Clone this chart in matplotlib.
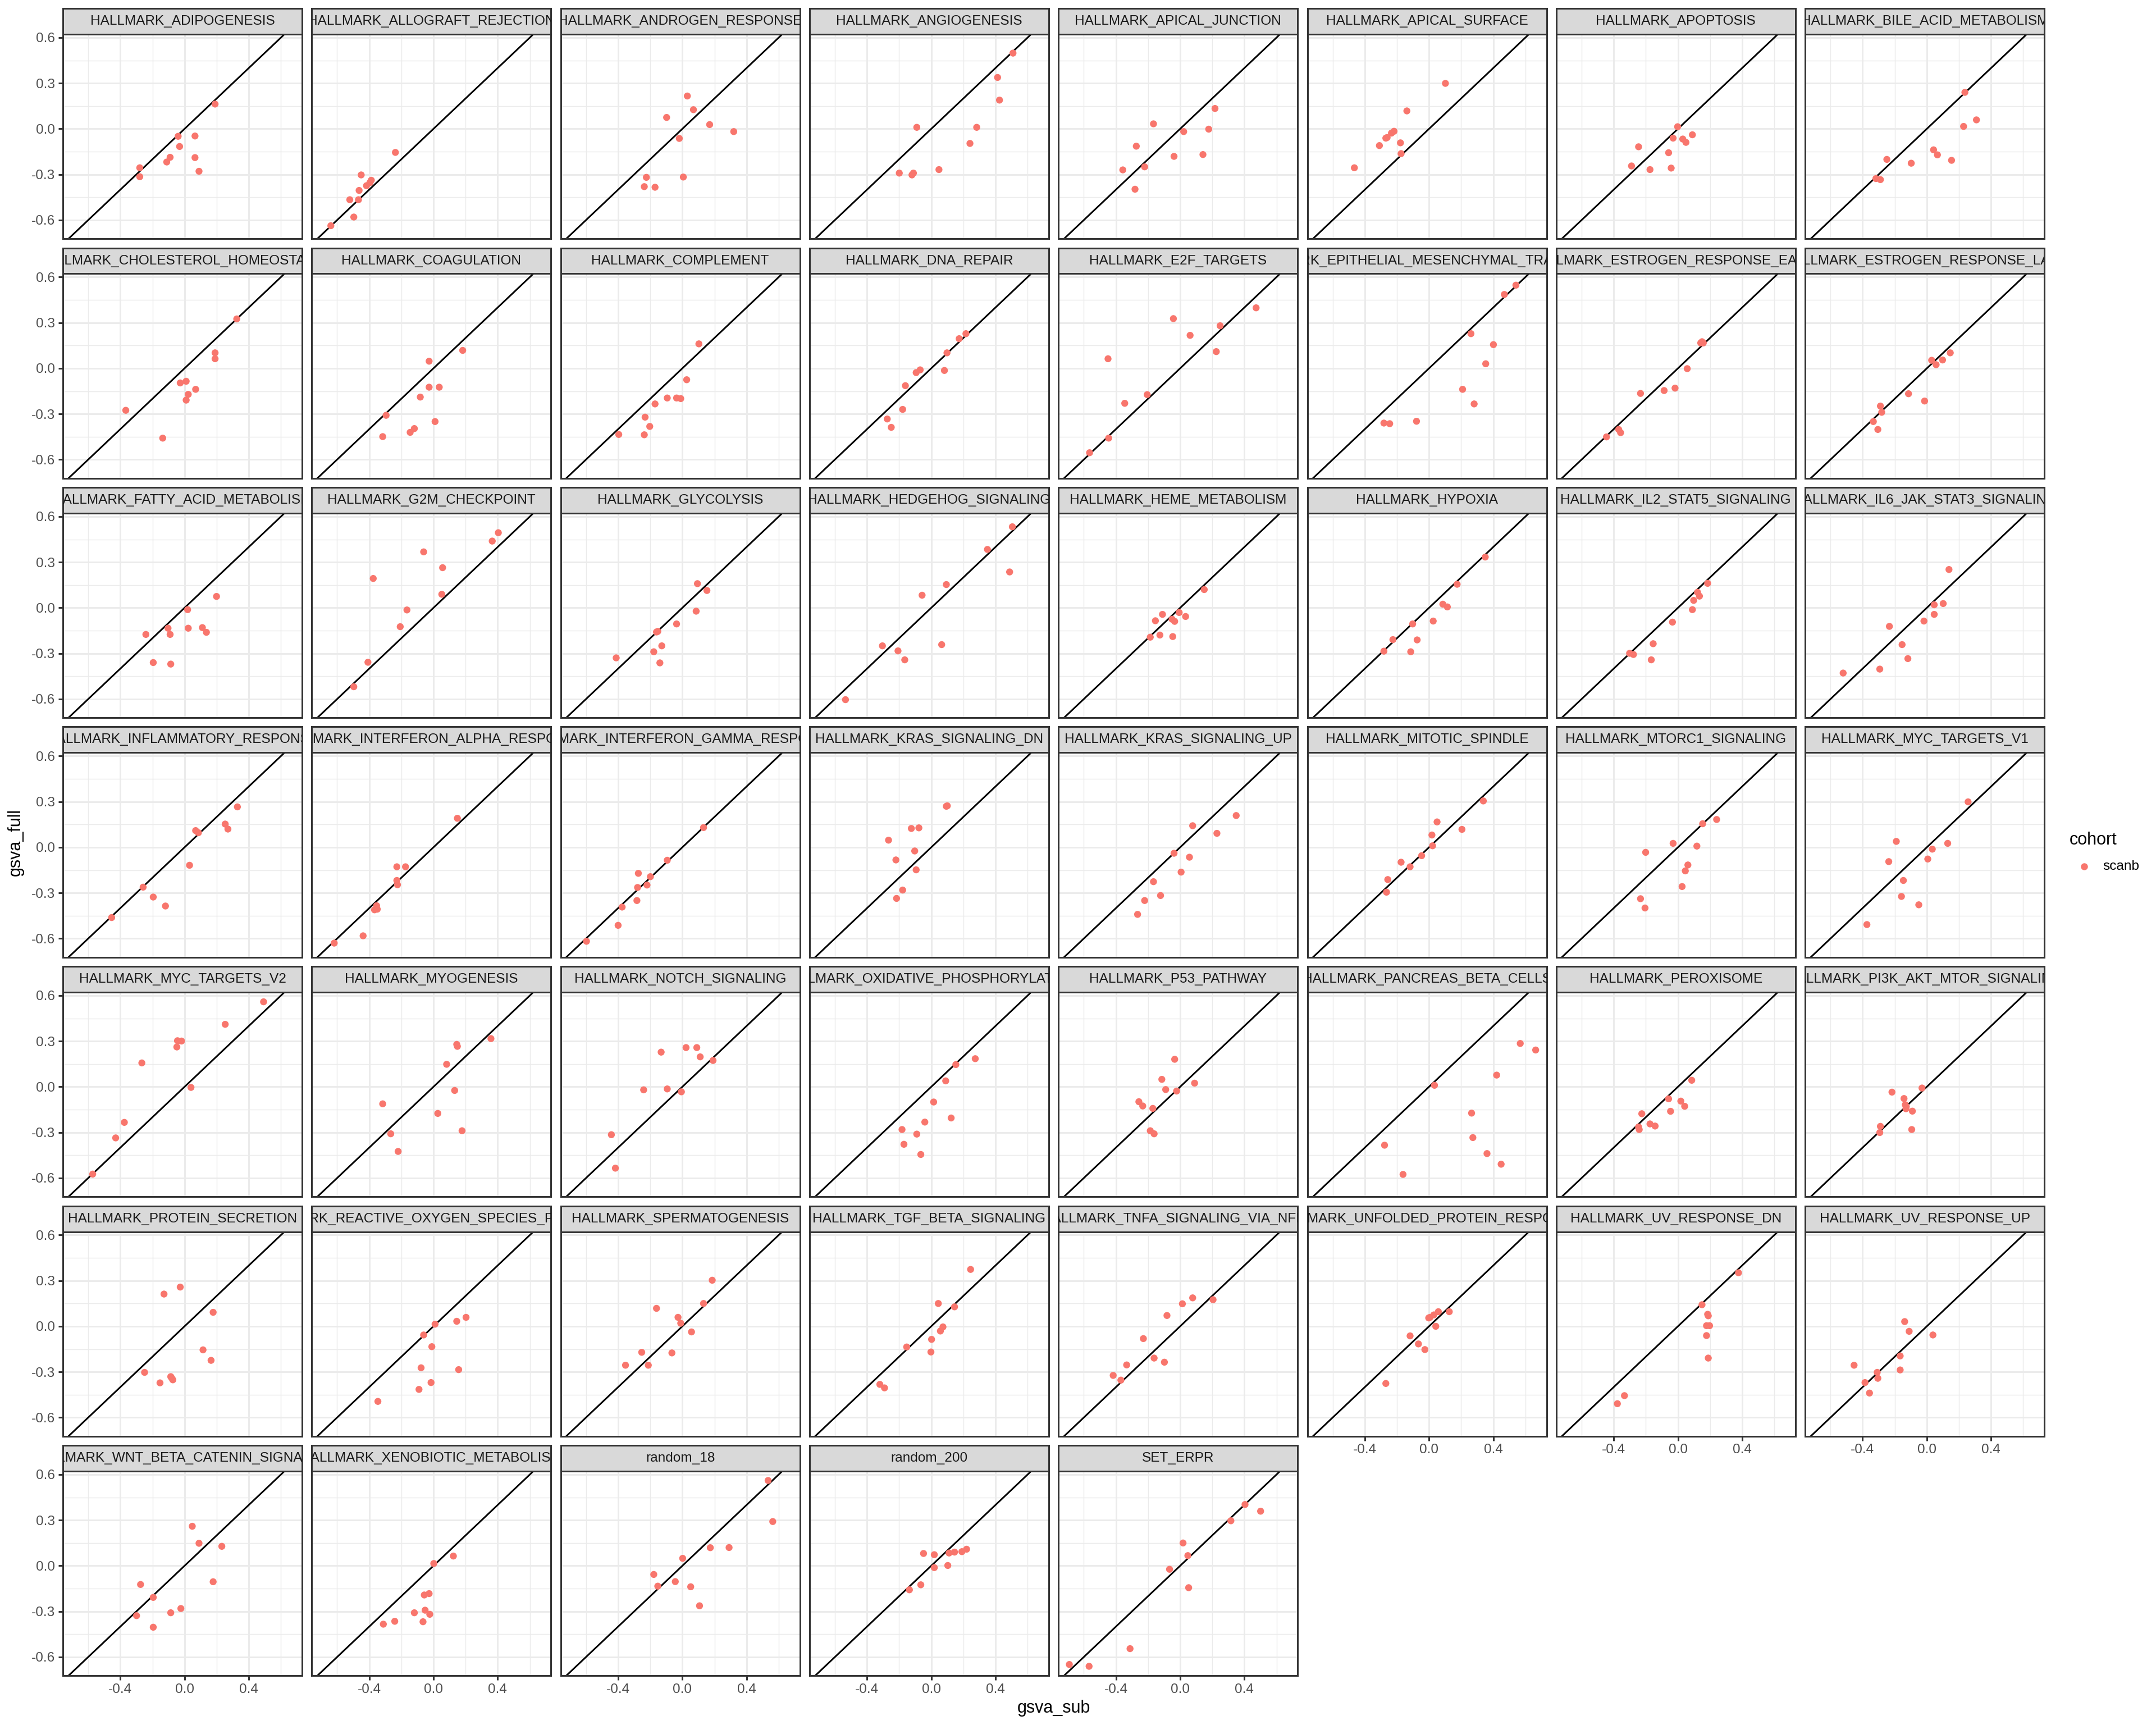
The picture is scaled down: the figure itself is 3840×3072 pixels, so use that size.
"""
GSVA scores: subset vs full cohort, one facet per gene set (ggplot-like facet_wrap)
"""
import numpy as np
import matplotlib
matplotlib.use("agg")  # noqa: E402
import matplotlib.pyplot as plt
from matplotlib.lines import Line2D
from matplotlib.ticker import FormatStrFormatter

plt.rcParams['font.family'] = ['Liberation Sans', 'DejaVu Sans']
plt.rcParams['axes.unicode_minus'] = False

# ---- data: gsva_sub (x) and gsva_full (y) per gene set, cohort scanb ----
ADIPOGENESIS_SUB = [0.19, -0.04, 0.065, -0.031, -0.09, -0.111, 0.065, 0.09, -0.279, -0.279]
ADIPOGENESIS_FULL = [0.163, -0.049, -0.047, -0.116, -0.187, -0.218, -0.189, -0.279, -0.256, -0.315]
ALLOGRAFT_SUB = [-0.237, -0.45, -0.387, -0.396, -0.417, -0.463, -0.521, -0.467, -0.496, -0.639]
ALLOGRAFT_FULL = [-0.155, -0.303, -0.338, -0.354, -0.374, -0.405, -0.466, -0.466, -0.58, -0.637]
ANDROGEN_SUB = [0.031, 0.069, -0.098, 0.17, 0.32, -0.019, -0.224, 0.006, -0.237, -0.17]
ANDROGEN_FULL = [0.216, 0.126, 0.075, 0.028, -0.018, -0.063, -0.319, -0.317, -0.38, -0.384]
ANGIOGENESIS_SUB = [0.509, 0.413, 0.425, -0.09, 0.283, 0.241, 0.048, -0.199, -0.12, -0.111]
ANGIOGENESIS_FULL = [0.498, 0.338, 0.189, 0.01, 0.01, -0.096, -0.268, -0.291, -0.303, -0.291]
APICAL_JUNCTION_SUB = [0.217, -0.166, 0.022, 0.178, -0.273, -0.038, 0.142, -0.221, -0.357, -0.281]
APICAL_JUNCTION_FULL = [0.134, 0.033, -0.018, -0.002, -0.114, -0.181, -0.169, -0.25, -0.27, -0.397]
APICAL_SURFACE_SUB = [0.102, -0.138, -0.218, -0.234, -0.261, -0.269, -0.178, -0.309, -0.174, -0.465]
APICAL_SURFACE_FULL = [0.299, 0.118, -0.016, -0.028, -0.057, -0.061, -0.092, -0.11, -0.163, -0.256]
APOPTOSIS_SUB = [-0.002, 0.09, -0.03, 0.03, 0.05, -0.245, -0.058, -0.289, -0.174, -0.042]
APOPTOSIS_FULL = [0.014, -0.039, -0.061, -0.067, -0.089, -0.118, -0.157, -0.244, -0.268, -0.258]
BILE_ACID_SUB = [0.237, 0.309, 0.229, 0.042, 0.066, 0.154, -0.249, -0.097, -0.317, -0.289]
BILE_ACID_FULL = [0.24, 0.059, 0.016, -0.138, -0.171, -0.207, -0.201, -0.226, -0.327, -0.334]
CHOLESTEROL_SUB = [0.325, 0.19, 0.19, 0.01, -0.027, 0.069, 0.023, 0.01, -0.366, -0.136]
CHOLESTEROL_FULL = [0.325, 0.102, 0.063, -0.085, -0.096, -0.138, -0.171, -0.209, -0.276, -0.459]
COAGULATION_SUB = [0.182, -0.027, -0.027, 0.036, -0.082, -0.295, 0.01, -0.119, -0.145, -0.316]
COAGULATION_FULL = [0.118, 0.047, -0.124, -0.124, -0.189, -0.309, -0.35, -0.396, -0.421, -0.449]
COMPLEMENT_SUB = [0.103, 0.027, -0.094, -0.036, -0.01, -0.17, -0.232, -0.203, -0.396, -0.237]
COMPLEMENT_FULL = [0.161, -0.075, -0.195, -0.195, -0.199, -0.234, -0.321, -0.382, -0.435, -0.437]
DNA_REPAIR_SUB = [0.216, 0.174, 0.098, -0.069, -0.094, 0.082, -0.161, -0.178, -0.274, -0.249]
DNA_REPAIR_FULL = [0.228, 0.195, 0.102, -0.01, -0.028, -0.014, -0.114, -0.27, -0.333, -0.388]
E2F_SUB = [0.473, -0.042, 0.249, 0.062, 0.225, -0.449, -0.205, -0.345, -0.445, -0.564]
E2F_FULL = [0.398, 0.327, 0.28, 0.217, 0.11, 0.063, -0.173, -0.23, -0.459, -0.555]
EMT_SUB = [0.541, 0.469, 0.261, 0.401, 0.353, 0.209, 0.281, -0.281, -0.245, -0.078]
EMT_FULL = [0.547, 0.486, 0.228, 0.156, 0.03, -0.138, -0.234, -0.36, -0.364, -0.348]
ESTROGEN_EARLY_SUB = [0.142, 0.158, 0.15, 0.058, -0.018, -0.086, -0.233, -0.369, -0.357, -0.445]
ESTROGEN_EARLY_FULL = [0.167, 0.167, 0.175, -0.002, -0.13, -0.146, -0.165, -0.402, -0.423, -0.451]
ESTROGEN_LATE_SUB = [0.146, 0.098, 0.03, 0.058, -0.114, -0.014, -0.289, -0.281, -0.333, -0.305]
ESTROGEN_LATE_FULL = [0.102, 0.055, 0.053, 0.024, -0.167, -0.215, -0.248, -0.289, -0.35, -0.402]
FATTY_ACID_SUB = [0.199, 0.019, -0.103, 0.023, 0.111, 0.136, -0.09, -0.241, -0.195, -0.086]
FATTY_ACID_FULL = [0.075, -0.012, -0.134, -0.134, -0.13, -0.161, -0.175, -0.175, -0.36, -0.37]
G2M_SUB = [0.404, 0.366, -0.061, 0.057, -0.375, 0.052, -0.165, -0.207, -0.408, -0.496]
G2M_FULL = [0.494, 0.439, 0.368, 0.264, 0.193, 0.089, -0.014, -0.124, -0.358, -0.519]
GLYCOLYSIS_SUB = [0.094, 0.153, 0.086, -0.036, -0.153, -0.161, -0.128, -0.178, -0.14, -0.412]
GLYCOLYSIS_FULL = [0.159, 0.114, -0.022, -0.106, -0.155, -0.159, -0.25, -0.289, -0.362, -0.329]
HEDGEHOG_SUB = [0.505, 0.35, 0.488, 0.094, -0.057, -0.304, -0.207, 0.065, -0.165, -0.534]
HEDGEHOG_FULL = [0.533, 0.384, 0.236, 0.153, 0.083, -0.25, -0.283, -0.242, -0.342, -0.604]
HEME_SUB = [0.15, -0.006, -0.11, -0.154, -0.05, -0.034, 0.034, -0.126, -0.186, -0.046]
HEME_FULL = [0.12, -0.031, -0.043, -0.085, -0.075, -0.089, -0.057, -0.179, -0.193, -0.189]
HYPOXIA_SUB = [0.35, 0.175, 0.086, 0.114, 0.026, -0.102, -0.225, -0.074, -0.281, -0.114]
HYPOXIA_FULL = [0.334, 0.155, 0.024, 0.006, -0.087, -0.106, -0.209, -0.211, -0.285, -0.289]
IL2_SUB = [0.185, 0.122, 0.134, 0.098, 0.09, -0.034, -0.154, -0.301, -0.277, -0.166]
IL2_FULL = [0.161, 0.102, 0.077, 0.049, -0.012, -0.094, -0.236, -0.299, -0.307, -0.342]
IL6_SUB = [0.138, 0.102, 0.046, 0.046, -0.018, -0.233, -0.154, -0.118, -0.293, -0.521]
IL6_FULL = [0.252, 0.028, 0.02, -0.043, -0.087, -0.122, -0.242, -0.334, -0.403, -0.429]
INFLAMMATORY_SUB = [0.329, 0.253, 0.27, 0.069, 0.086, 0.031, -0.258, -0.195, -0.119, -0.454]
INFLAMMATORY_FULL = [0.266, 0.153, 0.12, 0.11, 0.096, -0.118, -0.262, -0.327, -0.386, -0.462]
IFN_ALPHA_SUB = [0.149, -0.228, -0.174, -0.228, -0.224, -0.354, -0.35, -0.367, -0.438, -0.618]
IFN_ALPHA_FULL = [0.191, -0.128, -0.128, -0.218, -0.246, -0.384, -0.407, -0.411, -0.582, -0.63]
IFN_GAMMA_SUB = [0.132, -0.094, -0.199, -0.274, -0.22, -0.279, -0.283, -0.375, -0.4, -0.597]
IFN_GAMMA_FULL = [0.13, -0.085, -0.193, -0.171, -0.248, -0.264, -0.35, -0.393, -0.513, -0.618]
KRAS_DN_SUB = [0.094, 0.1, -0.124, -0.077, -0.266, -0.103, -0.22, -0.094, -0.178, -0.216]
KRAS_DN_FULL = [0.27, 0.273, 0.124, 0.128, 0.047, -0.024, -0.083, -0.148, -0.281, -0.336]
KRAS_UP_SUB = [0.349, 0.078, 0.229, -0.038, 0.058, 0.006, -0.166, -0.122, -0.221, -0.265]
KRAS_UP_FULL = [0.209, 0.142, 0.092, -0.039, -0.065, -0.163, -0.226, -0.317, -0.35, -0.441]
MITOTIC_SUB = [0.338, 0.05, 0.205, 0.018, 0.022, -0.046, -0.174, -0.118, -0.257, -0.265]
MITOTIC_FULL = [0.305, 0.167, 0.118, 0.081, 0.01, -0.055, -0.098, -0.128, -0.212, -0.295]
MTORC1_SUB = [0.241, 0.154, -0.03, 0.118, -0.201, 0.062, 0.046, 0.026, -0.233, -0.205]
MTORC1_FULL = [0.183, 0.155, 0.026, 0.008, -0.033, -0.116, -0.155, -0.258, -0.338, -0.399]
MYC_V1_SUB = [0.257, -0.19, 0.13, 0.034, 0.006, -0.237, -0.146, -0.158, -0.05, -0.373]
MYC_V1_FULL = [0.299, 0.039, 0.026, -0.012, -0.077, -0.094, -0.218, -0.323, -0.378, -0.508]
MYC_V2_SUB = [0.492, 0.253, -0.044, -0.019, -0.048, -0.266, 0.04, -0.375, -0.429, -0.572]
MYC_V2_FULL = [0.559, 0.411, 0.303, 0.301, 0.262, 0.157, -0.004, -0.234, -0.336, -0.574]
MYOGENESIS_SUB = [0.358, 0.145, 0.149, 0.082, -0.316, 0.132, 0.027, 0.178, -0.266, -0.22]
MYOGENESIS_FULL = [0.317, 0.279, 0.266, 0.148, -0.112, -0.024, -0.175, -0.289, -0.309, -0.425]
NOTCH_SUB = [-0.132, 0.023, 0.09, 0.111, 0.191, -0.241, -0.094, -0.006, -0.442, -0.417]
NOTCH_FULL = [0.228, 0.258, 0.258, 0.197, 0.173, -0.02, -0.014, -0.033, -0.315, -0.535]
OXPHOS_SUB = [0.274, 0.153, 0.09, 0.015, 0.124, -0.04, -0.182, -0.09, -0.17, -0.065]
OXPHOS_FULL = [0.185, 0.146, 0.039, -0.1, -0.205, -0.232, -0.281, -0.311, -0.378, -0.445]
P53_SUB = [-0.034, -0.114, 0.09, -0.09, -0.022, -0.257, -0.233, -0.17, -0.186, -0.162]
P53_FULL = [0.181, 0.049, 0.024, -0.018, -0.028, -0.098, -0.126, -0.142, -0.289, -0.309]
PANCREAS_SUB = [0.568, 0.664, 0.421, 0.034, 0.265, 0.273, -0.277, 0.361, 0.449, -0.162]
PANCREAS_FULL = [0.285, 0.242, 0.077, 0.01, -0.173, -0.334, -0.384, -0.439, -0.509, -0.576]
PEROXISOME_SUB = [0.086, -0.058, 0.018, 0.042, -0.046, -0.225, -0.174, -0.142, -0.245, -0.241]
PEROXISOME_FULL = [0.043, -0.079, -0.094, -0.128, -0.161, -0.177, -0.244, -0.258, -0.264, -0.281]
PI3K_SUB = [-0.03, -0.217, -0.142, -0.134, -0.13, -0.09, -0.094, -0.289, -0.293, -0.128]
PI3K_FULL = [-0.008, -0.035, -0.077, -0.118, -0.144, -0.16, -0.281, -0.26, -0.301, -0.13]
PROTEIN_SECRETION_SUB = [-0.027, -0.128, 0.178, 0.115, 0.165, -0.249, -0.086, -0.073, -0.153, -0.08]
PROTEIN_SECRETION_FULL = [0.258, 0.212, 0.092, -0.155, -0.224, -0.303, -0.331, -0.352, -0.372, -0.34]
ROS_SUB = [0.203, 0.145, 0.01, -0.061, -0.01, -0.077, 0.157, -0.015, -0.09, -0.346]
ROS_FULL = [0.059, 0.033, 0.014, -0.057, -0.134, -0.273, -0.285, -0.37, -0.415, -0.494]
SPERMATOGENESIS_SUB = [0.186, 0.132, -0.161, -0.027, -0.01, 0.057, -0.253, -0.065, -0.354, -0.212]
SPERMATOGENESIS_FULL = [0.303, 0.15, 0.118, 0.059, 0.02, -0.037, -0.171, -0.175, -0.256, -0.256]
TGF_BETA_SUB = [0.245, 0.044, 0.145, 0.073, 0.057, 0.002, -0.153, -0.002, -0.32, -0.291]
TGF_BETA_FULL = [0.374, 0.15, 0.128, -0.004, -0.031, -0.086, -0.136, -0.169, -0.382, -0.405]
TNFA_SUB = [0.205, 0.078, 0.014, -0.082, -0.229, -0.162, -0.098, -0.333, -0.417, -0.369]
TNFA_FULL = [0.175, 0.187, 0.148, 0.071, -0.081, -0.209, -0.236, -0.254, -0.323, -0.354]
UNFOLDED_SUB = [0.126, 0.058, 0.03, 0.006, -0.002, 0.042, -0.118, -0.066, -0.026, -0.269]
UNFOLDED_FULL = [0.096, 0.096, 0.075, 0.059, 0.055, 0.0, -0.063, -0.116, -0.153, -0.376]
UV_DN_SUB = [0.377, 0.15, 0.185, 0.189, 0.178, 0.197, 0.178, 0.189, -0.333, -0.377]
UV_DN_FULL = [0.352, 0.142, 0.079, 0.069, 0.004, 0.004, -0.061, -0.209, -0.456, -0.509]
UV_UP_SUB = [-0.138, -0.11, 0.038, -0.166, -0.453, -0.166, -0.309, -0.305, -0.385, -0.357]
UV_UP_FULL = [0.031, -0.033, -0.057, -0.195, -0.256, -0.287, -0.303, -0.342, -0.37, -0.439]
WNT_SUB = [0.048, 0.09, 0.232, 0.178, -0.274, -0.195, -0.023, -0.086, -0.299, -0.195]
WNT_FULL = [0.26, 0.148, 0.128, -0.105, -0.123, -0.208, -0.281, -0.309, -0.328, -0.404]
XENOBIOTIC_SUB = [0.124, 0.002, -0.027, -0.057, -0.052, -0.023, -0.119, -0.065, -0.241, -0.312]
XENOBIOTIC_FULL = [0.064, 0.015, -0.183, -0.192, -0.292, -0.319, -0.309, -0.368, -0.365, -0.384]
RANDOM_18_SUB = [0.534, 0.563, 0.174, 0.291, 0.002, -0.178, -0.044, -0.153, 0.052, 0.107]
RANDOM_18_FULL = [0.561, 0.291, 0.119, 0.12, 0.049, -0.057, -0.104, -0.134, -0.138, -0.263]
RANDOM_200_SUB = [0.22, 0.191, 0.145, 0.111, -0.048, 0.019, 0.103, 0.019, -0.065, -0.136]
RANDOM_200_FULL = [0.109, 0.093, 0.09, 0.084, 0.081, 0.073, 0.002, -0.012, -0.125, -0.158]
SET_ERPR_SUB = [0.404, 0.501, 0.316, 0.018, 0.048, -0.066, 0.053, -0.312, -0.69, -0.567]
SET_ERPR_FULL = [0.403, 0.359, 0.296, 0.15, 0.067, -0.023, -0.144, -0.545, -0.649, -0.661]

PANELS = [
    ("HALLMARK_ADIPOGENESIS", ADIPOGENESIS_SUB, ADIPOGENESIS_FULL),
    ("HALLMARK_ALLOGRAFT_REJECTION", ALLOGRAFT_SUB, ALLOGRAFT_FULL),
    ("HALLMARK_ANDROGEN_RESPONSE", ANDROGEN_SUB, ANDROGEN_FULL),
    ("HALLMARK_ANGIOGENESIS", ANGIOGENESIS_SUB, ANGIOGENESIS_FULL),
    ("HALLMARK_APICAL_JUNCTION", APICAL_JUNCTION_SUB, APICAL_JUNCTION_FULL),
    ("HALLMARK_APICAL_SURFACE", APICAL_SURFACE_SUB, APICAL_SURFACE_FULL),
    ("HALLMARK_APOPTOSIS", APOPTOSIS_SUB, APOPTOSIS_FULL),
    ("HALLMARK_BILE_ACID_METABOLISM", BILE_ACID_SUB, BILE_ACID_FULL),
    ("HALLMARK_CHOLESTEROL_HOMEOSTASIS", CHOLESTEROL_SUB, CHOLESTEROL_FULL),
    ("HALLMARK_COAGULATION", COAGULATION_SUB, COAGULATION_FULL),
    ("HALLMARK_COMPLEMENT", COMPLEMENT_SUB, COMPLEMENT_FULL),
    ("HALLMARK_DNA_REPAIR", DNA_REPAIR_SUB, DNA_REPAIR_FULL),
    ("HALLMARK_E2F_TARGETS", E2F_SUB, E2F_FULL),
    ("HALLMARK_EPITHELIAL_MESENCHYMAL_TRANSITION", EMT_SUB, EMT_FULL),
    ("HALLMARK_ESTROGEN_RESPONSE_EARLY", ESTROGEN_EARLY_SUB, ESTROGEN_EARLY_FULL),
    ("HALLMARK_ESTROGEN_RESPONSE_LATE", ESTROGEN_LATE_SUB, ESTROGEN_LATE_FULL),
    ("HALLMARK_FATTY_ACID_METABOLISM", FATTY_ACID_SUB, FATTY_ACID_FULL),
    ("HALLMARK_G2M_CHECKPOINT", G2M_SUB, G2M_FULL),
    ("HALLMARK_GLYCOLYSIS", GLYCOLYSIS_SUB, GLYCOLYSIS_FULL),
    ("HALLMARK_HEDGEHOG_SIGNALING", HEDGEHOG_SUB, HEDGEHOG_FULL),
    ("HALLMARK_HEME_METABOLISM", HEME_SUB, HEME_FULL),
    ("HALLMARK_HYPOXIA", HYPOXIA_SUB, HYPOXIA_FULL),
    ("HALLMARK_IL2_STAT5_SIGNALING", IL2_SUB, IL2_FULL),
    ("HALLMARK_IL6_JAK_STAT3_SIGNALING", IL6_SUB, IL6_FULL),
    ("HALLMARK_INFLAMMATORY_RESPONSE", INFLAMMATORY_SUB, INFLAMMATORY_FULL),
    ("HALLMARK_INTERFERON_ALPHA_RESPONSE", IFN_ALPHA_SUB, IFN_ALPHA_FULL),
    ("HALLMARK_INTERFERON_GAMMA_RESPONSE", IFN_GAMMA_SUB, IFN_GAMMA_FULL),
    ("HALLMARK_KRAS_SIGNALING_DN", KRAS_DN_SUB, KRAS_DN_FULL),
    ("HALLMARK_KRAS_SIGNALING_UP", KRAS_UP_SUB, KRAS_UP_FULL),
    ("HALLMARK_MITOTIC_SPINDLE", MITOTIC_SUB, MITOTIC_FULL),
    ("HALLMARK_MTORC1_SIGNALING", MTORC1_SUB, MTORC1_FULL),
    ("HALLMARK_MYC_TARGETS_V1", MYC_V1_SUB, MYC_V1_FULL),
    ("HALLMARK_MYC_TARGETS_V2", MYC_V2_SUB, MYC_V2_FULL),
    ("HALLMARK_MYOGENESIS", MYOGENESIS_SUB, MYOGENESIS_FULL),
    ("HALLMARK_NOTCH_SIGNALING", NOTCH_SUB, NOTCH_FULL),
    ("HALLMARK_OXIDATIVE_PHOSPHORYLATION", OXPHOS_SUB, OXPHOS_FULL),
    ("HALLMARK_P53_PATHWAY", P53_SUB, P53_FULL),
    ("HALLMARK_PANCREAS_BETA_CELLS", PANCREAS_SUB, PANCREAS_FULL),
    ("HALLMARK_PEROXISOME", PEROXISOME_SUB, PEROXISOME_FULL),
    ("HALLMARK_PI3K_AKT_MTOR_SIGNALING", PI3K_SUB, PI3K_FULL),
    ("HALLMARK_PROTEIN_SECRETION", PROTEIN_SECRETION_SUB, PROTEIN_SECRETION_FULL),
    ("HALLMARK_REACTIVE_OXYGEN_SPECIES_PATHWAY", ROS_SUB, ROS_FULL),
    ("HALLMARK_SPERMATOGENESIS", SPERMATOGENESIS_SUB, SPERMATOGENESIS_FULL),
    ("HALLMARK_TGF_BETA_SIGNALING", TGF_BETA_SUB, TGF_BETA_FULL),
    ("HALLMARK_TNFA_SIGNALING_VIA_NFKB", TNFA_SUB, TNFA_FULL),
    ("HALLMARK_UNFOLDED_PROTEIN_RESPONSE", UNFOLDED_SUB, UNFOLDED_FULL),
    ("HALLMARK_UV_RESPONSE_DN", UV_DN_SUB, UV_DN_FULL),
    ("HALLMARK_UV_RESPONSE_UP", UV_UP_SUB, UV_UP_FULL),
    ("HALLMARK_WNT_BETA_CATENIN_SIGNALING", WNT_SUB, WNT_FULL),
    ("HALLMARK_XENOBIOTIC_METABOLISM", XENOBIOTIC_SUB, XENOBIOTIC_FULL),
    ("random_18", RANDOM_18_SUB, RANDOM_18_FULL),
    ("random_200", RANDOM_200_SUB, RANDOM_200_FULL),
    ("SET_ERPR", SET_ERPR_SUB, SET_ERPR_FULL),
]

X_MAJOR = [-0.4, 0.0, 0.4]
X_MINOR = [-0.6, -0.2, 0.2, 0.6]
Y_MAJOR = [-0.6, -0.3, 0.0, 0.3, 0.6]
Y_MINOR = [-0.45, -0.15, 0.15, 0.45]

POINT_COLOR = '#F8766D'
BORDER = '#333333'
GRID = '#EBEBEB'

# layout, in pixels of the 3840 x 3072 output
W, H, DPI = 3840, 3072, 200
NCOL = 8
PANEL_LEFT, COL_PITCH, PANEL_W = 112, 443.3, 426
STRIP_TOP, ROW_PITCH, STRIP_H, PANEL_H = 15, 426.5, 46, 364


def fig_rect(x, y, w, h):
    """pixel box (top-left origin) -> figure fraction rect"""
    return [x / W, 1 - (y + h) / H, w / W, h / H]


def expanded(values, mult=0.05):
    lo, hi = min(values), max(values)
    pad = (hi - lo) * mult
    return lo - pad, hi + pad


def draw_panel(fig, idx, name, sub, full, xlim, ylim, n_panels):
    row, col = divmod(idx, NCOL)
    x0 = PANEL_LEFT + col * COL_PITCH
    y0 = STRIP_TOP + row * ROW_PITCH

    # strip on top
    sax = fig.add_axes(fig_rect(x0, y0, PANEL_W, STRIP_H))
    sax.set_facecolor('#D9D9D9')
    sax.set_xticks([])
    sax.set_yticks([])
    for sp in sax.spines.values():
        sp.set_color(BORDER)
        sp.set_linewidth(1.07)
    sax.text(0.5, 0.5, name, ha='center', va='center', fontsize=8.8,
             color='#1A1A1A', transform=sax.transAxes, clip_on=True)

    ax = fig.add_axes(fig_rect(x0, y0 + STRIP_H, PANEL_W, PANEL_H))
    ax.set_xlim(*xlim)
    ax.set_ylim(*ylim)
    ax.set_xticks(X_MAJOR)
    ax.set_xticks(X_MINOR, minor=True)
    ax.set_yticks(Y_MAJOR)
    ax.set_yticks(Y_MINOR, minor=True)
    ax.xaxis.set_major_formatter(FormatStrFormatter('%.1f'))
    ax.yaxis.set_major_formatter(FormatStrFormatter('%.1f'))
    ax.grid(which='major', color=GRID, linewidth=1.07)
    ax.grid(which='minor', color=GRID, linewidth=0.53)
    ax.set_axisbelow(True)
    for sp in ax.spines.values():
        sp.set_color(BORDER)
        sp.set_linewidth(1.07)
    ax.tick_params(which='major', length=2.75, width=1.07, color=BORDER,
                   labelsize=8.8, labelcolor='#4D4D4D', pad=2.2)
    ax.tick_params(which='minor', length=0)

    show_y = col == 0
    show_x = idx + NCOL >= n_panels
    ax.tick_params(left=show_y, labelleft=show_y,
                   bottom=show_x, labelbottom=show_x)

    ax.axline((0, 0), slope=1, color='black', linewidth=1.07, zorder=2)
    ax.scatter(sub, full, s=20, color=POINT_COLOR, edgecolors='none',
               zorder=3)
    return ax


def main():
    fig = plt.figure(figsize=(W / DPI, H / DPI), dpi=DPI)

    all_x = [v for _, s, _ in PANELS for v in s]
    all_y = [v for _, _, f in PANELS for v in f]
    xlim = expanded(all_x)
    ylim = expanded(all_y)

    for i, (name, sub, full) in enumerate(PANELS):
        draw_panel(fig, i, name, sub, full, xlim, ylim, len(PANELS))

    # axis titles
    right_edge = PANEL_LEFT + (NCOL - 1) * COL_PITCH + PANEL_W
    fig.text((PANEL_LEFT + right_edge) / 2 / W, 1 - 3042 / H, "gsva_sub",
             ha='center', va='center', fontsize=11)
    fig.text(28 / W, 1 - 1500 / H, "gsva_full", rotation=90,
             ha='center', va='center', fontsize=11)

    # legend
    fig.text(3686 / W, 1 - 1496 / H, "cohort", ha='left', va='center',
             fontsize=11)
    fig.add_artist(Line2D([3712 / W], [1 - 1543 / H], marker='o',
                          markersize=4.5, color=POINT_COLOR,
                          markeredgewidth=0, linestyle='none',
                          transform=fig.transFigure))
    fig.text(3745 / W, 1 - 1543 / H, "scanb", ha='left', va='center',
             fontsize=8.8)

    fig.savefig('out.png', dpi=DPI, facecolor='white')


if __name__ == '__main__':
    main()
